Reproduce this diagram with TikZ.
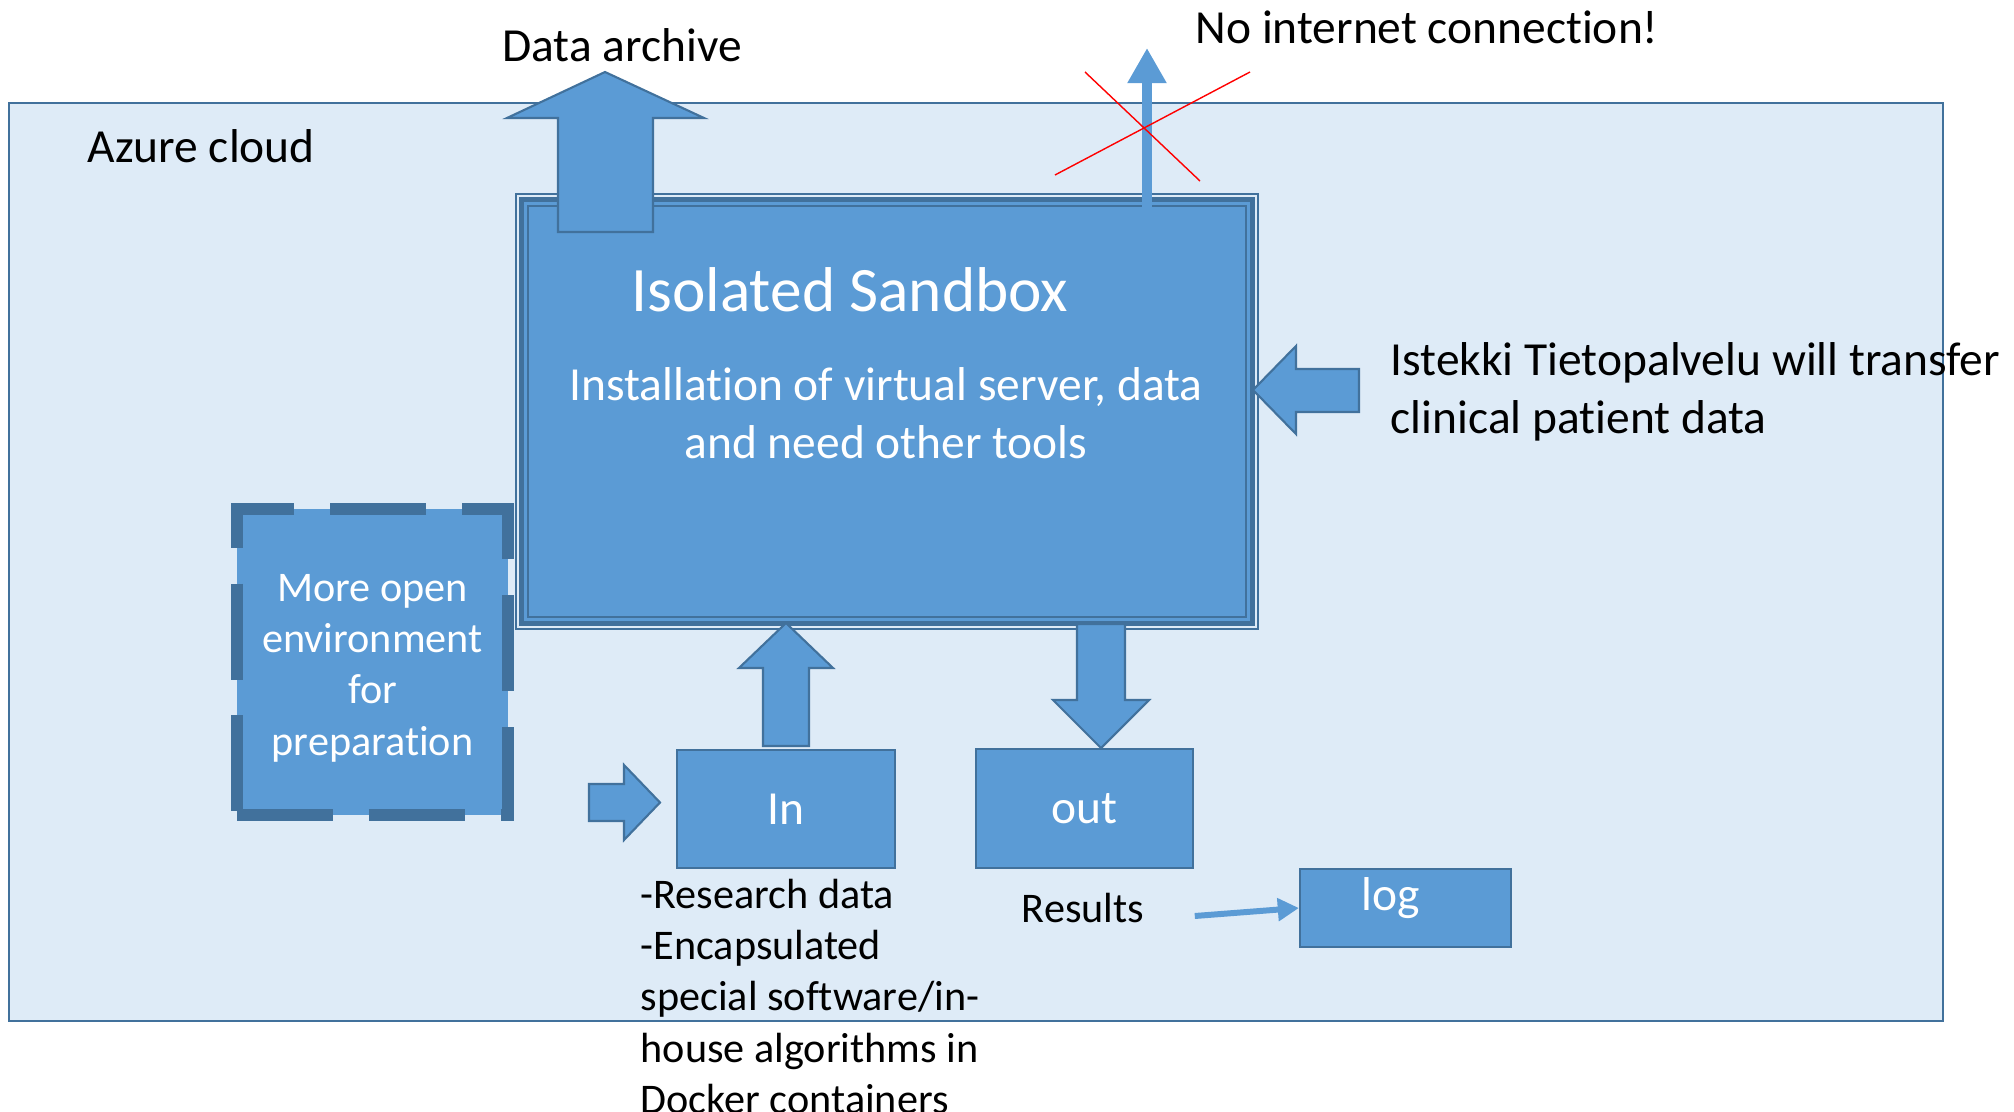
\documentclass[tikz,border=0pt]{standalone}
\usepackage{fontspec}
\setmainfont{Carlito}[Ligatures=NoCommon]
\usetikzlibrary{arrows.meta}
\definecolor{boxblue}{HTML}{5B9BD5}
\definecolor{edgeblue}{HTML}{41719C}
\definecolor{cloudbg}{HTML}{DEEBF7}
\newcommand\txtbig{\fontsize{13.5}{16.5}\selectfont}
\newcommand\txtsmall{\fontsize{12}{14.6}\selectfont}
\newcommand\txttitle{\fontsize{18}{22}\selectfont}

\begin{document}
\begin{tikzpicture}[x=0.01cm,y=-0.01cm,line join=miter,
    box/.style={draw=edgeblue,fill=boxblue,line width=0.6pt,text=white,font=\txtbig,inner sep=0pt},
    blockarr/.style={draw=edgeblue,fill=boxblue,line width=0.6pt},
    thinarr/.style={draw=boxblue,-{Triangle[width=10.5pt,length=10pt]}},
    label/.style={font=\txtbig,inner sep=0pt}]

    \useasboundingbox (0,0) rectangle (2014,1112);

    % the cloud
    \node[draw=edgeblue, fill=cloudbg, line width=0.6pt, minimum width=19.32cm, minimum height=9.18cm, inner sep=0pt] (azure) at (976,562) {};
    \node[label, anchor=west] (azuretxt) at (87,146) {Azure cloud};

    % sandbox with its compound border
    \node[draw=edgeblue, fill=cloudbg, line width=0.6pt, minimum width=7.42cm, minimum height=4.35cm, inner sep=0pt] (sandbox) at (887,411.5) {};
    \draw[edgeblue, fill=boxblue, line width=1.4pt] ([shift={(7,7)}]sandbox.north west) rectangle ([shift={(-7,-7)}]sandbox.south east);
    \draw[edgeblue, line width=0.6pt] ([shift={(13,13)}]sandbox.north west) rectangle ([shift={(-13,-13)}]sandbox.south east);
    \node[label, font=\txttitle, text=white] (title) at (850,290) {Isolated Sandbox};
    \node[label, text=white, align=center] (install) at (886,413) {Installation of virtual server, data\\and need other tools};

    % data archive
    \draw[blockarr] (558,232) -- (558,118) -- (507,118) -- (605,72) -- (704,118) -- (653,118) -- (653,232) -- cycle;
    \node[label] (archive) at (622,45) {Data archive};

    % no internet
    \coordinate (nettail) at (1147,210);
    \coordinate (nettip) at (1147,48);
    \draw[thinarr, line width=2.8pt] (nettail) -- (nettip);
    \draw[red, line width=0.4pt] (1085,72) -- (1200,181);
    \draw[red, line width=0.4pt] (1250,72) -- (1055,175);
    \node[label] (nonet) at (1427,27) {No internet connection!};

    % istekki
    \draw[blockarr] (1359,369) -- (1296,369) -- (1296,346) -- (1253,390) -- (1296,434) -- (1296,412) -- (1359,412) -- cycle;
    \node[label, anchor=west, align=left] (istekki) at (1390,392) {Istekki Tietopalvelu will transfer\\clinical patient data};

    % preparation
    \node[box, line width=3.4pt, dash pattern=on 27.3pt off 10.2pt, minimum width=2.71cm, minimum height=3.06cm] (prep) at (372.5,662) {};
    \node[label, font=\txtsmall, text=white, align=center] (preptxt) at (372.5,668) {More open\\environment\\for\\preparation};

    % in / out / log
    \node[box, minimum width=2.18cm, minimum height=1.18cm] (inbox) at (786,809) {\raisebox{-0.8pt}{In}};
    \node[box, minimum width=2.17cm, minimum height=1.19cm] (outbox) at (1084.5,808.5) {\raisebox{-0.9pt}{out}};
    \node[box, minimum width=2.11cm, minimum height=0.78cm] (logbox) at (1405.5,908) {};
    \node[label, text=white] (logtxt) at (1391,898) {log};

    \draw[blockarr] (763,746) -- (763,668) -- (739,668) -- (786,623) -- (833,668) -- (809,668) -- (809,746) -- cycle;
    \draw[blockarr] (589,784) -- (624,784) -- (624,765) -- (660,802.5) -- (624,840) -- (624,821) -- (589,821) -- cycle;
    \draw[blockarr] (1077,624) -- (1125,624) -- (1125,700) -- (1149,700) -- (1101,748) -- (1053,700) -- (1077,700) -- cycle;

    \node[label, font=\txtsmall] (results) at (1083,908) {Results};
    \draw[thinarr, line width=1.7pt, -{Triangle[width=6.3pt,length=6pt]}] ([shift={(50,8)}]results.east) -- (logbox.west);

    \node[label, font=\txtsmall, anchor=north west, align=left] (indesc) at (640,878) {-Research data\\-Encapsulated\\special software/in-\\house algorithms in\\Docker containers};
\end{tikzpicture}
\end{document}
